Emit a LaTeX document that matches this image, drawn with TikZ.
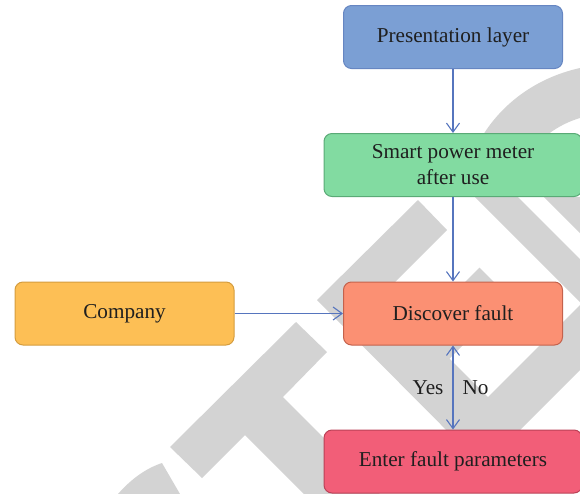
\documentclass[tikz,border=0pt]{standalone}
\usepackage{fontspec}
\setmainfont{Liberation Serif}
\usepackage{tikz}
\usetikzlibrary{arrows.meta}

\definecolor{presfill}{HTML}{7B9FD4}
\definecolor{presline}{HTML}{6686C2}
\definecolor{smartfill}{HTML}{82DBA1}
\definecolor{smartline}{HTML}{5AAA76}
\definecolor{compfill}{HTML}{FDBF55}
\definecolor{compline}{HTML}{D49C3E}
\definecolor{discfill}{HTML}{FB9073}
\definecolor{discline}{HTML}{C4624C}
\definecolor{enterfill}{HTML}{F25E78}
\definecolor{enterline}{HTML}{BA4257}
\definecolor{linkblue}{HTML}{5675BE}
\definecolor{wmgray}{HTML}{D3D3D3}

\begin{document}
\begin{tikzpicture}[x=0.5pt,y=-0.5pt,
  block/.style={draw,rounded corners=4pt,line width=0.5pt,minimum height=31.5pt,
    align=center,inner sep=2pt,text=black!88,font=\fontsize{10.6}{13}\selectfont},
  link/.style={draw=linkblue,line width=0.55pt},
  lbl/.style={inner sep=4.5pt,text=black!88,font=\fontsize{10.6}{13}\selectfont},
  >={Straight Barb[length=4.5pt,width=6.5pt]}]
\useasboundingbox (0,0) rectangle (580,494);
\clip (0,0) rectangle (580,494);

\fill[wmgray] (118,494) .. controls (132,478) and (147,468) .. (162,463) -- (180,494) -- cycle;
\fill[wmgray] (170,447) -- (296,322) -- (327,352) -- (283,397) -- (380,494) -- (304,494)
  -- (245,435) -- (202,478) -- cycle;
\fill[wmgray] (317,300) -- (418,200) -- (447,230) -- (384,293) -- (419,328) -- (479.5,267.5)
  -- (510,298) -- (449.5,358.5) -- (488,397) -- (580,305) -- (580,370) -- (483,467) -- cycle;
\fill[wmgray] (580,68) .. controls (535,78) and (500,105) .. (480,140) -- (475,197) -- (580,302)
  -- (580,259) -- (518,197) -- (530,150) .. controls (545,135) and (560,124) .. (580,118) -- cycle;
\fill[wmgray] (544,197) -- (580,233) -- (580,197) -- cycle;

\node[block,fill=presfill,draw=presline,minimum width=109.5pt] (pres) at (453,37) {Presentation layer};
\node[block,fill=smartfill,draw=smartline,minimum width=129pt] (smart) at (453,165) {Smart power meter\\after use};
\node[block,fill=compfill,draw=compline,minimum width=109.5pt] (comp) at (124.5,313.5) {Company};
\node[block,fill=discfill,draw=discline,minimum width=109.5pt] (disc) at (453,313.5) {Discover fault};
\node[block,fill=enterfill,draw=enterline,minimum width=129pt] (enter) at (453,461.5) {Enter fault parameters};

\draw[link,->] (pres) -- (smart);
\draw[link,->] (smart) -- (disc);
\draw[link,->] (comp) -- (disc);
\draw[link,<->] (disc) -- node[lbl,left] {Yes} node[lbl,right] {No} (enter);
\end{tikzpicture}
\end{document}
